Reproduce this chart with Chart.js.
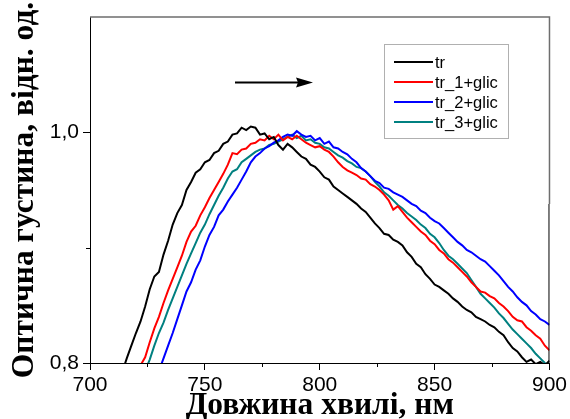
<!DOCTYPE html>
<html>
<head>
<meta charset="utf-8">
<script src="https://cdn.jsdelivr.net/npm/chart.js@4/dist/chart.umd.min.js"></script>
<style>
html,body{margin:0;padding:0;background:#fff;}
canvas{display:block;}
</style>
</head>
<body>
<canvas id="c" width="570" height="419"></canvas>
<script>
// Wavelength grid (nm)
const wavelengths = [714,716,718,720,722,724,726,728,730,732,734,736,738,740,742,744,746,748,750,752,754,756,758,760,762,764,766,768,770,772,774,776,778,780,782,784,786,788,790,792,794,796,798,800,802,804,806,808,810,812,814,816,818,820,822,824,826,828,830,832,834,836,838,840,842,844,846,848,850,852,854,856,858,860,862,864,866,868,870,872,874,876,878,880,882,884,886,888,890,892,894,896,898,900];

const seriesNames = ['tr','tr_1+glic','tr_2+glic','tr_3+glic'];

const trValues = [0.792,0.804,0.815,0.826,0.836,0.849,0.864,0.875,0.879,0.894,0.906,0.920,0.930,0.937,0.950,0.957,0.965,0.968,0.974,0.976,0.982,0.984,0.990,0.992,0.998,0.999,1.004,1.002,1.005,1.004,0.998,0.999,0.994,0.996,0.989,0.985,0.990,0.987,0.983,0.979,0.977,0.972,0.970,0.966,0.961,0.959,0.953,0.950,0.947,0.944,0.941,0.938,0.934,0.931,0.926,0.921,0.917,0.912,0.911,0.907,0.905,0.902,0.896,0.892,0.886,0.883,0.877,0.873,0.868,0.866,0.863,0.860,0.856,0.853,0.849,0.846,0.844,0.840,0.838,0.836,0.833,0.831,0.827,0.824,0.818,0.813,0.810,0.805,0.801,0.803,0.799,0.801,0.798,0.802];

const tr1Values = [null,null,null,0.788,0.798,0.805,0.818,0.830,0.840,0.852,0.863,0.873,0.883,0.893,0.905,0.914,0.919,0.928,0.935,0.943,0.950,0.957,0.964,0.972,0.982,0.981,0.985,0.986,0.990,0.991,0.994,0.993,0.997,0.994,0.998,0.993,0.996,0.994,0.997,0.994,0.991,0.989,0.987,0.988,0.985,0.983,0.979,0.974,0.970,0.967,0.965,0.963,0.960,0.959,0.955,0.953,0.950,0.946,0.941,0.933,0.936,0.931,0.926,0.922,0.918,0.914,0.911,0.906,0.903,0.898,0.895,0.890,0.887,0.883,0.879,0.875,0.870,0.866,0.862,0.861,0.858,0.856,0.852,0.849,0.845,0.840,0.837,0.836,0.831,0.828,0.824,0.821,0.815,0.811];

const tr2Values = [null,null,null,null,null,null,null,null,0.793,0.804,0.815,0.826,0.838,0.850,0.862,0.870,0.881,0.889,0.901,0.911,0.918,0.928,0.933,0.940,0.946,0.952,0.959,0.966,0.974,0.979,0.982,0.986,0.988,0.991,0.993,0.996,0.998,0.997,1.001,0.998,0.996,0.997,0.993,0.995,0.990,0.992,0.987,0.986,0.983,0.981,0.977,0.974,0.969,0.966,0.962,0.958,0.956,0.952,0.951,0.948,0.946,0.944,0.941,0.938,0.936,0.932,0.930,0.926,0.923,0.921,0.917,0.913,0.909,0.905,0.902,0.898,0.896,0.893,0.890,0.888,0.884,0.880,0.876,0.871,0.866,0.862,0.857,0.853,0.850,0.845,0.842,0.838,0.836,0.833];

const tr3Values = [null,null,null,null,null,0.793,0.803,0.815,0.826,0.835,0.846,0.856,0.866,0.876,0.886,0.895,0.904,0.913,0.920,0.929,0.937,0.945,0.952,0.960,0.966,0.968,0.974,0.977,0.980,0.983,0.985,0.986,0.989,0.990,0.992,0.994,0.996,0.998,0.995,0.997,0.993,0.994,0.991,0.990,0.987,0.986,0.983,0.980,0.978,0.975,0.973,0.970,0.969,0.966,0.962,0.957,0.953,0.948,0.945,0.941,0.937,0.934,0.930,0.927,0.924,0.920,0.917,0.912,0.909,0.904,0.898,0.893,0.890,0.886,0.882,0.878,0.872,0.866,0.860,0.856,0.852,0.848,0.843,0.839,0.834,0.829,0.825,0.821,0.817,0.813,0.808,0.804,0.800,0.797];

const xMajorTicks = [700,750,800,850,900];
const xMinorTicks = [725,775,825,875];
const yMajorTicks = [0.8,1.0];
const yMinorTicks = [0.9];

const colors = ['#000000','#ff0000','#0000ff','#008080'];
const allValues = [trValues,tr1Values,tr2Values,tr3Values];

const datasets = allValues.map((vals,k)=>({
  label: seriesNames[k],
  data: wavelengths.map((w,i)=>({x:w,y:vals[i]})),
  borderColor: colors[k],
  backgroundColor: colors[k],
  borderWidth: 2,
  pointRadius: 0,
  tension: 0,
  spanGaps: false,
  clip: 0
}));

const decor = {
  id:'decor',
  afterDatasetsDraw(chart){
    const ctx = chart.ctx;
    const a = chart.chartArea;
    const xs = chart.scales.x, ys = chart.scales.y;
    ctx.save();
    // frame top and right
    ctx.lineWidth = 1.5;
    ctx.strokeStyle = '#6e6e6e';
    ctx.beginPath();
    ctx.moveTo(a.left, a.top); ctx.lineTo(a.right, a.top);
    ctx.lineTo(a.right, 204);
    ctx.stroke();
    ctx.lineWidth = 1;
    ctx.strokeStyle = '#000';
    ctx.beginPath();
    ctx.moveTo(a.right-0.5, 204); ctx.lineTo(a.right-0.5, a.bottom);
    ctx.stroke();
    // minor ticks
    ctx.strokeStyle = '#000';
    ctx.lineWidth = 1;
    ctx.beginPath();
    xMinorTicks.forEach(v=>{
      const px = Math.round(xs.getPixelForValue(v))+0.5;
      ctx.moveTo(px, a.bottom); ctx.lineTo(px, a.bottom+4);
    });
    yMinorTicks.forEach(v=>{
      const py = Math.round(ys.getPixelForValue(v))+0.5;
      ctx.moveTo(a.left, py); ctx.lineTo(a.left-4, py);
    });
    ctx.stroke();
    // arrow
    ctx.lineWidth = 2.2;
    ctx.beginPath();
    ctx.moveTo(235, 82.5); ctx.lineTo(300, 82.5);
    ctx.stroke();
    ctx.fillStyle = '#000';
    ctx.beginPath();
    ctx.moveTo(313, 82.5); ctx.lineTo(296, 77.5); ctx.lineTo(298, 82.5); ctx.lineTo(296, 87.5); ctx.closePath();
    ctx.fill();
    // legend
    ctx.fillStyle = '#fff';
    ctx.fillRect(384, 44, 125, 95);
    ctx.strokeStyle = '#b0b0b0';
    ctx.lineWidth = 1;
    ctx.strokeRect(384.5, 44.5, 124, 94);
    ctx.font = '16.5px "Liberation Sans", Arial, sans-serif';
    ctx.textBaseline = 'middle';
    chart.data.datasets.forEach((ds,i)=>{
      const y = 62 + i*20;
      ctx.strokeStyle = ds.borderColor;
      ctx.lineWidth = 2.2;
      ctx.beginPath(); ctx.moveTo(394, y); ctx.lineTo(433, y); ctx.stroke();
      ctx.fillStyle = '#000';
      ctx.fillText(ds.label, 435, y+1);
    });
    ctx.restore();
  }
};

new Chart(document.getElementById('c'), {
  type:'line',
  data:{datasets},
  plugins:[decor],
  options:{
    responsive:false,
    animation:false,
    layout:{padding:{top:17,right:20,left:0,bottom:0}},
    plugins:{legend:{display:false},tooltip:{enabled:false}},
    scales:{
      x:{
        type:'linear', min:700, max:900,
        afterBuildTicks(s){ s.ticks = xMajorTicks.map(v=>({value:v})); },
        afterFit(s){ s.height = 56; },
        border:{display:true,color:'#000',width:1},
        grid:{display:true,drawOnChartArea:false,drawTicks:true,tickLength:7,color:'#000'},
        ticks:{color:'#000',padding:3,maxRotation:0,autoSkip:false,font:{family:'"Liberation Sans", Arial, sans-serif',size:21}},
        title:{display:true,text:'Довжина хвилі, нм',color:'#000',padding:{top:-4,bottom:-6},font:{family:'"Liberation Serif", "Times New Roman", serif',size:31.5,weight:'bold'}}
      },
      y:{
        type:'linear', min:0.8, max:1.1,
        afterBuildTicks(s){ s.ticks = yMajorTicks.map(v=>({value:v})); },
        afterFit(s){ s.width = 90; },
        border:{display:true,color:'#000',width:1},
        grid:{display:true,drawOnChartArea:false,drawTicks:true,tickLength:7,color:'#000'},
        ticks:{color:'#000',padding:4,autoSkip:false,callback:(v)=>Number(v).toFixed(1).replace('.',','),font:{family:'"Liberation Sans", Arial, sans-serif',size:21}},
        title:{display:true,text:'Оптична густина, відн. од.',color:'#000',padding:{top:6,bottom:0},font:{family:'"Liberation Serif", "Times New Roman", serif',size:31.5,weight:'bold'}}
      }
    }
  }
});
</script>
</body>
</html>
